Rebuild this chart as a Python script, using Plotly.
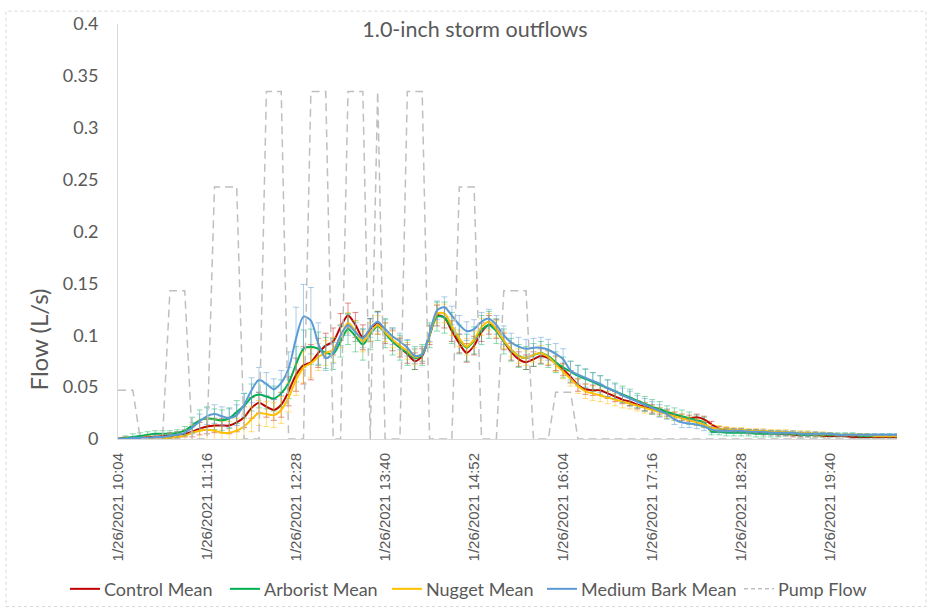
import pandas as pd
import plotly.graph_objects as go

# Sampling grid: one reading every 6 minutes
times = pd.date_range("2021-01-26 10:04", periods=106, freq="6min")

tick_times = pd.date_range("2021-01-26 10:04", periods=9, freq="72min")
tick_labels = ["1/26/2021 10:04", "1/26/2021 11:16", "1/26/2021 12:28",
               "1/26/2021 13:40", "1/26/2021 14:52", "1/26/2021 16:04",
               "1/26/2021 17:16", "1/26/2021 18:28", "1/26/2021 19:40"]

control_mean = [
    0.000, 0.001, 0.001, 0.001, 0.002, 0.002, 0.003, 0.003, 0.004, 0.005,
    0.007, 0.010, 0.012, 0.013, 0.013, 0.013, 0.016, 0.021, 0.030, 0.035,
    0.031, 0.028, 0.033, 0.046, 0.062, 0.071, 0.074, 0.083, 0.090, 0.094,
    0.108, 0.119, 0.110, 0.098, 0.105, 0.112, 0.102, 0.095, 0.088, 0.082,
    0.075, 0.080, 0.100, 0.119, 0.117, 0.104, 0.092, 0.083, 0.090, 0.103,
    0.110, 0.106, 0.094, 0.084, 0.077, 0.074, 0.077, 0.080, 0.078, 0.073,
    0.067, 0.060, 0.052, 0.048, 0.047, 0.047, 0.044, 0.041, 0.038, 0.036,
    0.033, 0.031, 0.029, 0.027, 0.025, 0.023, 0.021, 0.020, 0.021, 0.019,
    0.014, 0.010, 0.009, 0.008, 0.008, 0.007, 0.007, 0.006, 0.006, 0.005,
    0.005, 0.004, 0.004, 0.004, 0.004, 0.003, 0.003, 0.003, 0.003, 0.002,
    0.002, 0.002, 0.002, 0.002, 0.002, 0.002]
control_err = [
    0.001, 0.001, 0.001, 0.002, 0.002, 0.002, 0.002, 0.003, 0.003, 0.003,
    0.005, 0.006, 0.007, 0.007, 0.007, 0.008, 0.009, 0.010, 0.010, 0.010,
    0.010, 0.010, 0.012, 0.014, 0.016, 0.018, 0.017, 0.014, 0.012, 0.013,
    0.013, 0.012, 0.012, 0.012, 0.011, 0.011, 0.010, 0.010, 0.009, 0.009,
    0.008, 0.007, 0.009, 0.010, 0.010, 0.010, 0.009, 0.009, 0.009, 0.009,
    0.009, 0.009, 0.008, 0.008, 0.007, 0.007, 0.007, 0.007, 0.007, 0.007,
    0.006, 0.006, 0.006, 0.005, 0.005, 0.005, 0.005, 0.005, 0.004, 0.004,
    0.004, 0.004, 0.004, 0.003, 0.003, 0.003, 0.003, 0.003, 0.003, 0.003,
    0.003, 0.002, 0.002, 0.002, 0.002, 0.002, 0.002, 0.002, 0.002, 0.002,
    0.002, 0.002, 0.002, 0.002, 0.002, 0.001, 0.001, 0.001, 0.001, 0.001,
    0.001, 0.001, 0.001, 0.001, 0.001, 0.001]

arborist_mean = [
    0.000, 0.001, 0.002, 0.003, 0.004, 0.005, 0.005, 0.005, 0.006, 0.008,
    0.013, 0.018, 0.020, 0.019, 0.018, 0.020, 0.026, 0.032, 0.040, 0.043,
    0.041, 0.039, 0.044, 0.054, 0.072, 0.087, 0.089, 0.087, 0.083, 0.082,
    0.094, 0.106, 0.099, 0.091, 0.101, 0.109, 0.102, 0.094, 0.088, 0.083,
    0.078, 0.081, 0.100, 0.118, 0.117, 0.107, 0.096, 0.088, 0.095, 0.105,
    0.110, 0.104, 0.094, 0.086, 0.080, 0.078, 0.081, 0.083, 0.080, 0.074,
    0.069, 0.065, 0.061, 0.058, 0.055, 0.052, 0.049, 0.046, 0.043, 0.040,
    0.037, 0.034, 0.031, 0.029, 0.026, 0.024, 0.022, 0.020, 0.018, 0.016,
    0.007, 0.007, 0.006, 0.006, 0.006, 0.006, 0.005, 0.005, 0.005, 0.005,
    0.005, 0.005, 0.004, 0.004, 0.004, 0.004, 0.004, 0.004, 0.004, 0.004,
    0.003, 0.003, 0.003, 0.003, 0.003, 0.003]
arborist_err = [
    0.001, 0.002, 0.003, 0.003, 0.003, 0.003, 0.003, 0.003, 0.003, 0.004,
    0.008, 0.010, 0.011, 0.010, 0.010, 0.010, 0.011, 0.012, 0.013, 0.013,
    0.012, 0.012, 0.013, 0.015, 0.017, 0.018, 0.017, 0.016, 0.015, 0.015,
    0.015, 0.015, 0.015, 0.015, 0.015, 0.014, 0.014, 0.013, 0.012, 0.012,
    0.011, 0.010, 0.012, 0.014, 0.015, 0.015, 0.014, 0.013, 0.013, 0.014,
    0.013, 0.012, 0.012, 0.011, 0.011, 0.011, 0.011, 0.011, 0.011, 0.010,
    0.010, 0.010, 0.010, 0.009, 0.009, 0.009, 0.008, 0.008, 0.008, 0.008,
    0.007, 0.007, 0.007, 0.007, 0.006, 0.006, 0.006, 0.006, 0.005, 0.005,
    0.003, 0.003, 0.003, 0.003, 0.003, 0.003, 0.003, 0.003, 0.003, 0.003,
    0.002, 0.002, 0.002, 0.002, 0.002, 0.002, 0.002, 0.002, 0.002, 0.002,
    0.002, 0.002, 0.002, 0.002, 0.002, 0.002]

nugget_mean = [
    0.000, 0.000, 0.000, 0.000, 0.001, 0.001, 0.001, 0.001, 0.002, 0.003,
    0.006, 0.008, 0.009, 0.008, 0.006, 0.006, 0.008, 0.012, 0.019, 0.025,
    0.024, 0.023, 0.028, 0.040, 0.057, 0.069, 0.073, 0.079, 0.083, 0.086,
    0.099, 0.112, 0.104, 0.094, 0.103, 0.110, 0.103, 0.096, 0.090, 0.085,
    0.079, 0.082, 0.101, 0.121, 0.121, 0.109, 0.097, 0.089, 0.096, 0.108,
    0.113, 0.106, 0.095, 0.086, 0.080, 0.078, 0.081, 0.083, 0.079, 0.072,
    0.065, 0.058, 0.051, 0.046, 0.044, 0.042, 0.040, 0.038, 0.036, 0.034,
    0.032, 0.030, 0.028, 0.026, 0.024, 0.022, 0.020, 0.018, 0.016, 0.014,
    0.011, 0.010, 0.010, 0.009, 0.009, 0.008, 0.008, 0.008, 0.007, 0.007,
    0.007, 0.006, 0.006, 0.006, 0.005, 0.005, 0.005, 0.004, 0.004, 0.004,
    0.004, 0.004, 0.003, 0.003, 0.003, 0.003]
nugget_err = [
    0.000, 0.001, 0.001, 0.001, 0.002, 0.002, 0.003, 0.004, 0.005, 0.006,
    0.008, 0.010, 0.011, 0.011, 0.011, 0.011, 0.012, 0.012, 0.012, 0.012,
    0.012, 0.012, 0.013, 0.014, 0.015, 0.015, 0.014, 0.013, 0.012, 0.012,
    0.011, 0.010, 0.010, 0.010, 0.009, 0.009, 0.009, 0.008, 0.008, 0.008,
    0.007, 0.007, 0.008, 0.009, 0.009, 0.009, 0.008, 0.008, 0.008, 0.008,
    0.008, 0.008, 0.008, 0.007, 0.007, 0.007, 0.007, 0.007, 0.007, 0.007,
    0.007, 0.007, 0.007, 0.007, 0.007, 0.006, 0.006, 0.006, 0.006, 0.005,
    0.005, 0.005, 0.004, 0.004, 0.004, 0.004, 0.004, 0.003, 0.003, 0.003,
    0.003, 0.003, 0.002, 0.002, 0.002, 0.002, 0.002, 0.002, 0.002, 0.002,
    0.002, 0.002, 0.002, 0.002, 0.002, 0.002, 0.001, 0.001, 0.001, 0.001,
    0.001, 0.001, 0.001, 0.001, 0.001, 0.001]

medium_bark_mean = [
    0.000, 0.000, 0.001, 0.001, 0.001, 0.002, 0.002, 0.003, 0.004, 0.006,
    0.011, 0.017, 0.022, 0.024, 0.022, 0.020, 0.023, 0.033, 0.047, 0.057,
    0.053, 0.048, 0.054, 0.068, 0.097, 0.118, 0.114, 0.092, 0.078, 0.083,
    0.100, 0.110, 0.103, 0.097, 0.107, 0.113, 0.106, 0.099, 0.094, 0.088,
    0.080, 0.082, 0.102, 0.124, 0.127, 0.119, 0.110, 0.104, 0.106, 0.113,
    0.116, 0.110, 0.100, 0.093, 0.089, 0.087, 0.088, 0.088, 0.086, 0.082,
    0.077, 0.066, 0.062, 0.059, 0.056, 0.053, 0.049, 0.046, 0.042, 0.039,
    0.036, 0.033, 0.030, 0.027, 0.024, 0.019, 0.016, 0.015, 0.014, 0.012,
    0.009, 0.008, 0.008, 0.008, 0.008, 0.007, 0.007, 0.007, 0.006, 0.006,
    0.006, 0.006, 0.005, 0.005, 0.005, 0.005, 0.005, 0.004, 0.004, 0.004,
    0.004, 0.004, 0.004, 0.004, 0.004, 0.004]
medium_bark_err = [
    0.001, 0.001, 0.001, 0.001, 0.001, 0.002, 0.002, 0.002, 0.003, 0.003,
    0.005, 0.007, 0.008, 0.009, 0.009, 0.009, 0.010, 0.011, 0.012, 0.012,
    0.011, 0.010, 0.012, 0.016, 0.030, 0.031, 0.032, 0.020, 0.012, 0.010,
    0.010, 0.010, 0.009, 0.009, 0.009, 0.009, 0.009, 0.008, 0.008, 0.008,
    0.007, 0.007, 0.008, 0.009, 0.010, 0.009, 0.009, 0.009, 0.009, 0.009,
    0.009, 0.009, 0.009, 0.009, 0.009, 0.009, 0.009, 0.010, 0.010, 0.010,
    0.010, 0.009, 0.009, 0.009, 0.008, 0.008, 0.008, 0.007, 0.007, 0.007,
    0.006, 0.006, 0.006, 0.006, 0.005, 0.005, 0.005, 0.004, 0.004, 0.004,
    0.003, 0.002, 0.002, 0.002, 0.002, 0.002, 0.002, 0.002, 0.002, 0.002,
    0.002, 0.002, 0.002, 0.002, 0.002, 0.001, 0.001, 0.001, 0.001, 0.001,
    0.001, 0.001, 0.001, 0.001, 0.001, 0.001]

pump_flow = [
    0.047, 0.047, 0.047, 0.000, 0.000, 0.000, 0.000, 0.143, 0.143, 0.143,
    0.000, 0.000, 0.000, 0.243, 0.243, 0.243, 0.243, 0.000, 0.000, 0.000,
    0.335, 0.335, 0.335, 0.000, 0.000, 0.000, 0.335, 0.335, 0.335, 0.000,
    0.000, 0.335, 0.335, 0.335, 0.000, 0.335, 0.000, 0.000, 0.000, 0.335,
    0.335, 0.335, 0.000, 0.000, 0.000, 0.000, 0.243, 0.243, 0.243, 0.000,
    0.000, 0.000, 0.143, 0.143, 0.143, 0.143, 0.000, 0.000, 0.000, 0.045,
    0.045, 0.045, 0.000, 0.000, 0.000, 0.000, 0.000, 0.000, 0.000, 0.000,
    0.000, 0.000, 0.000, 0.000, 0.000, 0.000, 0.000, 0.000, 0.000, 0.000,
    0.000, 0.000, 0.000, 0.000, 0.000, 0.000, 0.000, 0.000, 0.000, 0.000,
    0.000, 0.000, 0.000, 0.000, 0.000, 0.000, 0.000, 0.000, 0.000, 0.000,
    0.000, 0.000, 0.000, 0.000, 0.000, 0.000]

series = [
    ("Control Mean", control_mean, control_err, "#C00000", "rgba(192,0,0,0.45)"),
    ("Arborist Mean", arborist_mean, arborist_err, "#00B050", "rgba(0,176,80,0.45)"),
    ("Nugget Mean", nugget_mean, nugget_err, "#FFC000", "rgba(255,192,0,0.5)"),
    ("Medium Bark Mean", medium_bark_mean, medium_bark_err, "#5B9BD5", "rgba(91,155,213,0.5)"),
]
PUMP_COLOR = "#BFBFBF"
PUMP_DASH = "8px,5px"

TEXT = "#595959"
CAL = "Lato, 'Open Sans', sans-serif"

# Plot-area geometry in pixels (used to place the legend row in paper units)
W, H = 932, 611
ML, MR, MT, MB = 118, 35, 18, 172
PW, PH = W - ML - MR, H - MT - MB


def px_x(px):
    return (px - ML) / PW


def px_y(py):
    return (H - MB - py) / PH


fig = go.Figure()
for name, vals, err, color, err_color in series:
    fig.add_trace(go.Scatter(
        x=times, y=vals, name=name, mode="lines",
        line=dict(color=color, width=2, shape="spline", smoothing=0.8),
        error_y=dict(type="data", array=err, visible=True,
                     color=err_color, thickness=1, width=3),
    ))

fig.add_trace(go.Scatter(
    x=times, y=pump_flow, name="Pump Flow", mode="lines",
    line=dict(color=PUMP_COLOR, width=1.5, dash=PUMP_DASH),
))

# Legend row along the bottom: sample line + label for each trace
legend_items = [(s[0], s[3], "solid") for s in series] + [("Pump Flow", PUMP_COLOR, "4px,3px")]
legend_starts = [70, 230, 392, 547, 744]
legend_y = 591
shapes = []
annotations = []
for (name, color, dash), x0 in zip(legend_items, legend_starts):
    shapes.append(dict(type="line", xref="paper", yref="paper",
                       x0=px_x(x0), x1=px_x(x0 + 30),
                       y0=px_y(legend_y), y1=px_y(legend_y),
                       line=dict(color=color, width=2 if dash == "solid" else 1.5, dash=dash)))
    annotations.append(dict(text=name, showarrow=False, xref="paper", yref="paper",
                            x=px_x(x0 + 32), y=px_y(legend_y),
                            xanchor="left", yanchor="middle",
                            font=dict(family=CAL, size=18, color=TEXT)))

annotations.append(dict(
    text="Flow (L/s)", textangle=-90, showarrow=False,
    xref="paper", yref="paper",
    x=px_x(38), y=px_y(338),
    xanchor="center", yanchor="middle",
    font=dict(family=CAL, size=24, color=TEXT),
))

# Light dotted frame around the whole chart
shapes.append(dict(
    type="rect", xref="paper", yref="paper",
    x0=px_x(6), x1=px_x(926), y0=px_y(609), y1=px_y(5),
    line=dict(color="#D9D9D9", width=1, dash="dot"),
    fillcolor="rgba(0,0,0,0)", layer="below",
))

fig.update_layout(
    width=W, height=H,
    margin=dict(l=ML, r=MR, t=MT, b=MB),
    paper_bgcolor="white", plot_bgcolor="white",
    font=dict(family=CAL, color=TEXT),
    title=dict(text="1.0-inch storm outflows", x=475 / W, xanchor="center",
               y=1 - 29 / H, yanchor="middle",
               font=dict(family=CAL, size=21.5, color=TEXT)),
    showlegend=False,
    xaxis=dict(
        type="date",
        range=[times[0], times[-1]],
        tickmode="array", tickvals=list(tick_times), ticktext=tick_labels,
        tickangle=-90, ticks="", ticklabelstandoff=7,
        tickfont=dict(family="Liberation Sans, Arial, sans-serif", size=15, color=TEXT),
        showgrid=False, zeroline=False,
        showline=True, linecolor="#D9D9D9", linewidth=1,
    ),
    yaxis=dict(
        range=[0, 0.4], dtick=0.05, tick0=0,
        ticks="", ticklabelstandoff=15,
        tickfont=dict(family=CAL, size=18, color=TEXT),
        showgrid=False, zeroline=False,
        showline=True, linecolor="#D9D9D9", linewidth=1,
    ),
    annotations=annotations,
    shapes=shapes,
)

fig.write_html("out.html")
